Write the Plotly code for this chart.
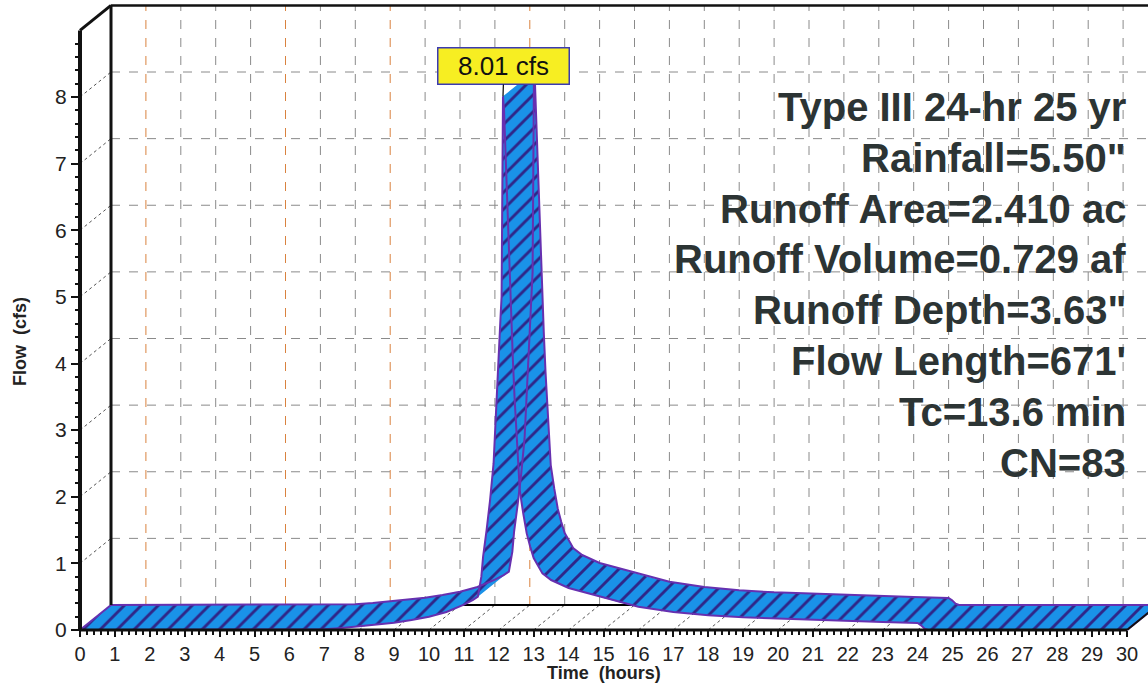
import plotly.graph_objects as go
import numpy as np

# ---------------- data ----------------
time_hr = [0.0, 6.5, 7.0, 7.5, 8.0, 8.5, 9.0, 9.5, 10.0, 10.5, 11.0, 11.25, 11.4,
           11.5, 11.55, 11.65, 11.75, 11.85, 11.9, 11.95, 12.0, 12.05, 12.08, 12.1,
           12.12, 12.15, 12.2, 12.25, 12.3, 12.35, 12.4, 12.45, 12.5, 12.55, 12.6,
           12.7, 12.8, 12.9, 13.0, 13.25, 13.5, 14.0, 14.5, 15.0, 15.5, 16.0, 17.0,
           18.0, 19.0, 20.0, 21.0, 22.0, 23.0, 24.0, 24.1, 24.2, 24.3, 30.0]
flow_cfs = [0.0, 0.0, 0.01, 0.03, 0.055, 0.08, 0.11, 0.15, 0.2, 0.27, 0.38, 0.45, 0.5,
            0.8, 1.1, 1.5, 1.95, 2.5, 3.1, 3.7, 4.2, 4.7, 5.0, 6.5,
            8.01, 7.8, 7.0, 6.2, 5.4, 4.7, 4.1, 3.5, 3.0, 2.5, 2.1,
            1.75, 1.45, 1.25, 1.08, 0.85, 0.75, 0.63, 0.56, 0.48, 0.41, 0.35, 0.27,
            0.22, 0.19, 0.17, 0.155, 0.14, 0.12, 0.105, 0.07, 0.02, 0.0, 0.0]

peak_time = 12.12
peak_flow = 8.01
peak_label = "8.01 cfs"

x_ticks = list(range(0, 31))
y_ticks = list(range(0, 9))
x_minor = [round(v, 1) for v in np.arange(0, 30.01, 0.2) if abs(v - round(v)) > 1e-6]
y_minor = [round(v, 1) for v in np.arange(0, 9.01, 0.2) if abs(v - round(v)) > 1e-6]
y_top = 9.0

x_title = "Time  (hours)"
y_title = "Flow  (cfs)"
info_lines = ["Type III 24-hr 25 yr", 'Rainfall=5.50"', "Runoff Area=2.410 ac",
              "Runoff Volume=0.729 af", 'Runoff Depth=3.63"', "Flow Length=671'",
              "Tc=13.6 min", "CN=83"]

# ---------------- geometry / style ----------------
W, H = 1148, 683
X0_PX, Y0_PX = 80, 630
PX_PER_HR = 34.9
PX_PER_CFS = 66.625
DX = 31 / PX_PER_HR          # depth offset (hours)
DY = 25 / PX_PER_CFS         # depth offset (cfs)

xr = [-X0_PX / PX_PER_HR, (W - X0_PX) / PX_PER_HR]
yr = [-(H - Y0_PX) / PX_PER_CFS, Y0_PX / PX_PER_CFS]

FONT = "Liberation Sans, Arial, sans-serif"
RIBBON_BG = "#1a92e8"
HATCH = "#2f2688"
OUTLINE = "#6630b0"

# ---------------- ribbon quads ----------------
qx, qy = [], []
for i in range(len(time_hr) - 1):
    t0, t1 = time_hr[i], time_hr[i + 1]
    f0, f1 = flow_cfs[i], flow_cfs[i + 1]
    pts = [(t0, f0), (t1, f1), (t1 + DX, f1 + DY), (t0 + DX, f0 + DY)]
    cross = (t1 - t0) * DY - (f1 - f0) * DX
    if abs(cross) < 1e-12:
        continue
    if cross < 0:
        pts = pts[::-1]
    for p in pts + [pts[0]]:
        qx.append(p[0]); qy.append(p[1])
    qx.append(None); qy.append(None)

fig = go.Figure()

fig.add_trace(go.Scatter(
    x=qx, y=qy, mode="none", fill="toself", fillcolor=RIBBON_BG,
    fillpattern=dict(shape="/", size=12, solidity=0.24, fgcolor=HATCH,
                     bgcolor=RIBBON_BG, fillmode="replace"),
    hoverinfo="skip", showlegend=False))

back_t = [t + DX for t in time_hr]
back_f = [f + DY for f in flow_cfs]
for xs, ys in [(time_hr, flow_cfs), (back_t, back_f),
               ([time_hr[0], back_t[0]], [flow_cfs[0], back_f[0]]),
               ([time_hr[-1], back_t[-1]], [flow_cfs[-1], back_f[-1]])]:
    fig.add_trace(go.Scatter(x=xs, y=ys, mode="lines",
                             line=dict(color=OUTLINE, width=2),
                             hoverinfo="skip", showlegend=False))

# ---------------- frame & back-wall grid ----------------
shapes = []
grid_gray = "#8a8a8a"
orange_hours = {1, 5, 8, 12}
for h in x_ticks[1:]:
    shapes.append(dict(type="line", xref="x", yref="y", layer="below",
                       x0=h + DX, x1=h + DX, y0=DY, y1=y_top + DY,
                       line=dict(color="#d9823f" if h in orange_hours else grid_gray,
                                 width=1, dash="dash")))
for h in x_ticks:
    shapes.append(dict(type="line", xref="x", yref="y", layer="below",
                       x0=h, x1=h + DX, y0=0, y1=DY,
                       line=dict(color="#555", width=1, dash="dot")))
for v in y_ticks[1:]:
    shapes.append(dict(type="line", xref="x", yref="y", layer="below",
                       x0=DX, x1=x_ticks[-1] + 2 * DX, y0=v + DY, y1=v + DY,
                       line=dict(color=grid_gray, width=1, dash="dash")))
    shapes.append(dict(type="line", xref="x", yref="y", layer="below",
                       x0=0, x1=DX, y0=v, y1=v + DY,
                       line=dict(color="#555", width=1, dash="dot")))
# back floor edge (behind the ribbon)
shapes.append(dict(type="line", xref="x", yref="y", layer="below",
                   x0=DX, x1=x_ticks[-1] + DX, y0=DY, y1=DY,
                   line=dict(color="black", width=2)))
# front / outer frame (above)
frame = [((0, 0), (0, y_top), 4),
         ((0, 0), (x_ticks[-1], 0), 3),
         ((0, y_top), (DX, y_top + DY), 3),
         ((DX, DY), (DX, y_top + DY), 3),
         ((DX, y_top + DY), (x_ticks[-1] + 2 * DX, y_top + DY), 2.5),
         ((x_ticks[-1], 0), (x_ticks[-1] + DX, DY), 2)]
for (a, b, w) in frame:
    shapes.append(dict(type="line", xref="x", yref="y", layer="above",
                       x0=a[0], y0=a[1], x1=b[0], y1=b[1],
                       line=dict(color="#111", width=w)))

# ---------------- annotations ----------------
annotations = [dict(x=peak_time, y=peak_flow, xref="x", yref="y", text=peak_label,
                    showarrow=True, arrowhead=0, arrowwidth=1.2, arrowcolor="black",
                    ax=1, ay=-30, bgcolor="#f7ee22", bordercolor="#3b3bb0",
                    borderwidth=1.5, borderpad=2, width=126, height=31,
                    font=dict(family=FONT, size=26, color="#111"))]
cap_centers = [106, 157, 208, 258, 309, 360, 411, 462]
for txt, cy in zip(info_lines, cap_centers):
    annotations.append(dict(x=1128 / W, y=1 - (cy + 1) / H, xref="paper", yref="paper",
                            xanchor="right", yanchor="middle", showarrow=False,
                            text=txt, font=dict(family=FONT, size=40, color="#2c3434",
                                                weight="bold")))
# x-axis title placed under the tick labels
annotations.append(dict(x=(X0_PX + 15 * PX_PER_HR) / W, y=1 - 673 / H,
                        xref="paper", yref="paper", xanchor="center", yanchor="middle",
                        showarrow=False, text=x_title,
                        font=dict(family=FONT, size=18, color="#222", weight="bold")))

fig.update_layout(
    width=W, height=H, margin=dict(l=0, r=0, t=0, b=0),
    paper_bgcolor="white", plot_bgcolor="white",
    shapes=shapes, annotations=annotations, showlegend=False,
    xaxis=dict(range=xr, domain=[0, 1], anchor="free", position=(H - Y0_PX) / H,
               showgrid=False, zeroline=False, showline=False,
               tickmode="array", tickvals=x_ticks, ticktext=[str(v) for v in x_ticks],
               ticks="outside", ticklen=6, tickwidth=2, tickcolor="#111",
               minor=dict(tickmode="array", tickvals=x_minor, ticks="outside",
                          ticklen=4, tickwidth=1.5, tickcolor="#111", showgrid=False),
               tickfont=dict(family=FONT, size=20, color="#222")),
    yaxis=dict(range=yr, domain=[0, 1], anchor="free", position=X0_PX / W,
               showgrid=False, zeroline=False, showline=False,
               tickmode="array", tickvals=y_ticks, ticktext=[str(v) for v in y_ticks],
               ticks="outside", ticklen=9, tickwidth=1.5, tickcolor="#111",
               minor=dict(tickmode="array", tickvals=y_minor, ticks="outside",
                          ticklen=5, tickwidth=1.5, tickcolor="#111", showgrid=False),
               tickfont=dict(family=FONT, size=21, color="#222"),
               title=dict(text=y_title, standoff=22,
                          font=dict(family=FONT, size=18, color="#222", weight="bold"))),
)

fig.write_html("out.html")
